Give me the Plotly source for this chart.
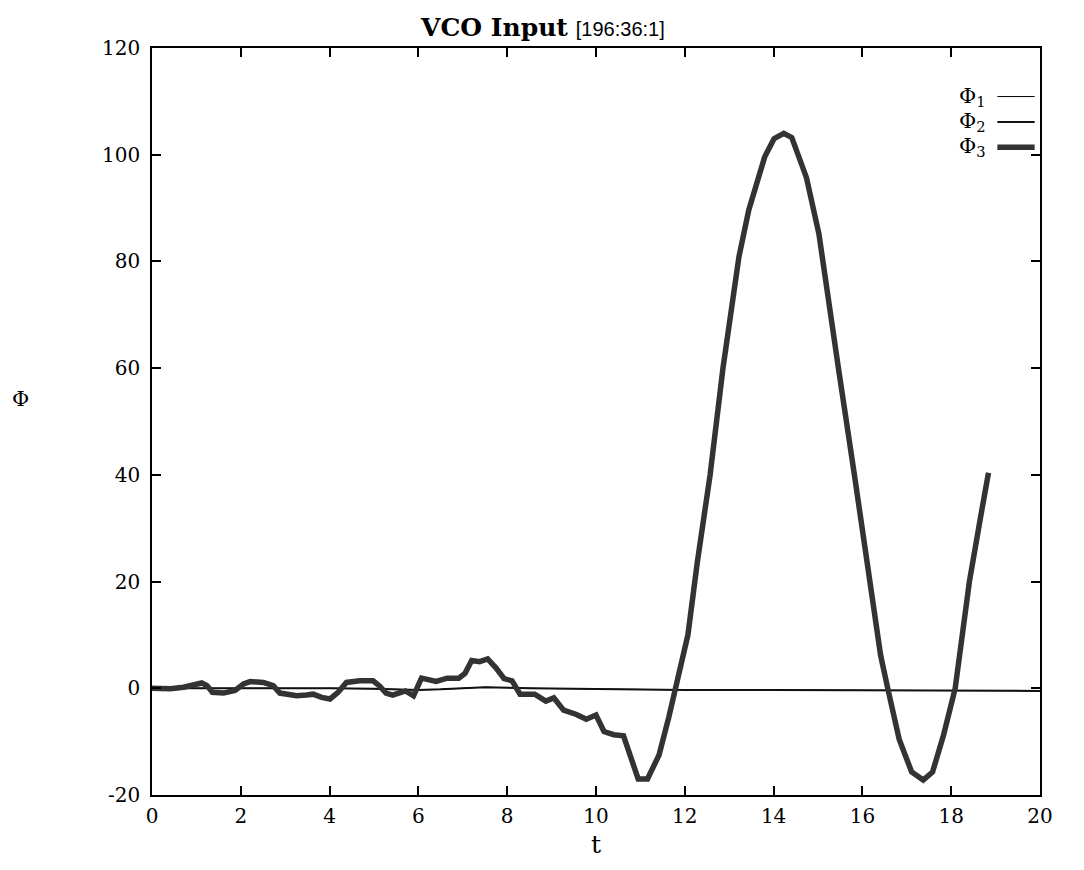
import plotly.graph_objects as go

# ---- data ----
t_phi1 = [0, 1, 2, 3, 4, 5, 6, 6.5, 7.5, 8.5, 9.5, 11, 12, 14, 16, 18, 20]
phi1 = [0.0, 0.0, 0.1, 0.0, 0.0, -0.1, -0.3, -0.2, 0.2, 0.0, -0.1, -0.2, -0.3, -0.3, -0.4, -0.5, -0.5]

t_phi2 = t_phi1
phi2 = phi1

t_phi3 = [0, 0.41, 0.71, 0.94, 1.12, 1.24, 1.36, 1.61, 1.87, 2.06, 2.21, 2.51, 2.73, 2.88,
          3.26, 3.48, 3.63, 3.82, 4.01, 4.19, 4.38, 4.68, 4.98, 5.13, 5.27, 5.42, 5.71, 5.89,
          6.07, 6.4, 6.65, 6.91, 7.05, 7.2, 7.38, 7.56, 7.75, 7.93, 8.11, 8.29, 8.62, 8.87,
          9.05, 9.27, 9.56, 9.78, 10.0, 10.18, 10.4, 10.62, 10.95, 11.16, 11.42, 11.64, 11.8,
          11.96, 12.07, 12.28, 12.57, 12.86, 13.22, 13.44, 13.8, 14.01, 14.23, 14.41, 14.74,
          15.02, 15.1, 15.46, 15.82, 16.18, 16.41, 16.57, 16.83, 17.11, 17.37, 17.58, 17.83,
          18.09, 18.41, 18.66, 18.84]
phi3 = [0.0, -0.1, 0.2, 0.8, 1.0, 0.5, -0.75, -0.9, -0.4, 0.8, 1.25, 1.1, 0.5, -0.9,
        -1.4, -1.25, -1.1, -1.7, -2.0, -0.75, 1.1, 1.4, 1.4, 0.4, -0.9, -1.3, -0.5, -1.4,
        1.9, 1.3, 1.9, 1.9, 2.8, 5.2, 5.0, 5.5, 3.8, 1.8, 1.4, -1.1, -1.1, -2.4,
        -1.8, -4.1, -4.9, -5.8, -5.0, -8.1, -8.7, -8.9, -17.0, -17.0, -12.5, -5.4, 0.0,
        6.1, 10.0, 23.5, 40.0, 60.0, 80.9, 89.6, 99.6, 103.0, 104.0, 103.2, 95.7,
        85.2, 80.9, 60.0, 40.0, 20.0, 6.2, 0.0, -9.6, -15.7, -17.2, -15.7, -8.7,
        0.0, 20.0, 32.0, 40.4]

x_ticks = [0, 2, 4, 6, 8, 10, 12, 14, 16, 18, 20]
y_ticks = [-20, 0, 20, 40, 60, 80, 100, 120]

legend_names = ["Φ<sub>1</sub>", "Φ<sub>2</sub>", "Φ<sub>3</sub>"]

SERIF = "DejaVu Serif"

fig = go.Figure()
fig.add_trace(go.Scatter(x=t_phi1, y=phi1, mode="lines", name="Φ1",
                         line=dict(color="#000000", width=1), showlegend=False))
fig.add_trace(go.Scatter(x=t_phi2, y=phi2, mode="lines", name="Φ2",
                         line=dict(color="#111111", width=2), showlegend=False))
fig.add_trace(go.Scatter(x=t_phi3, y=phi3, mode="lines", name="Φ3",
                         line=dict(color="#333333", width=5.5), showlegend=False))

axis_common = dict(
    showgrid=False, zeroline=False, showline=True, linecolor="black", linewidth=1.5,
    mirror="ticks", ticks="inside", ticklen=9, tickwidth=1.5, tickcolor="black",
    tickfont=dict(family=SERIF, size=20, color="black"),
)

# the page body adds an 8px offset, so the figure is 8px smaller on each axis
fig.update_layout(
    width=1076, height=862,
    paper_bgcolor="white", plot_bgcolor="white",
    margin=dict(l=144, r=44, t=40, b=75),
    xaxis=dict(range=[0, 20], tickvals=x_ticks, ticktext=[str(v) for v in x_ticks],
               ticklabelstandoff=2, **axis_common),
    yaxis=dict(range=[-20, 120], tickvals=y_ticks, ticktext=[str(v) for v in y_ticks],
               ticklabelstandoff=6, **axis_common),
    showlegend=False,
)

# title
fig.add_annotation(
    text="<b>VCO Input</b> <span style='font-family:Liberation Sans;font-size:20px'>[196:36:1]</span>",
    xref="paper", yref="paper", x=0.44, y=1.0, yanchor="bottom", yshift=4,
    showarrow=False, font=dict(family=SERIF, size=25, color="black"))
# axis labels
fig.add_annotation(text="t", xref="paper", yref="paper", x=0.5, y=0, yanchor="top", yshift=-33,
                   showarrow=False, font=dict(family=SERIF, size=25, color="black"))
fig.add_annotation(text="Φ", xref="paper", yref="paper", x=0, y=0.53, xanchor="left", xshift=-142,
                   showarrow=False, font=dict(family=SERIF, size=21, color="black"))

# legend (text on the left, sample on the right, like gnuplot)
widths = [1, 2, 5.5]
colors = ["#000000", "#111111", "#333333"]
for i, (nm, w, c) in enumerate(zip(legend_names, widths, colors)):
    ypos = 0.935 - i * 0.034
    fig.add_annotation(text=nm, xref="paper", yref="paper", x=0.941, y=ypos, xanchor="right",
                       yanchor="middle", showarrow=False, font=dict(family=SERIF, size=21, color="black"))
    fig.add_shape(type="line", xref="paper", yref="paper", x0=0.952, x1=0.994, y0=ypos, y1=ypos,
                  line=dict(color=c, width=w))

fig.write_html("out.html")
